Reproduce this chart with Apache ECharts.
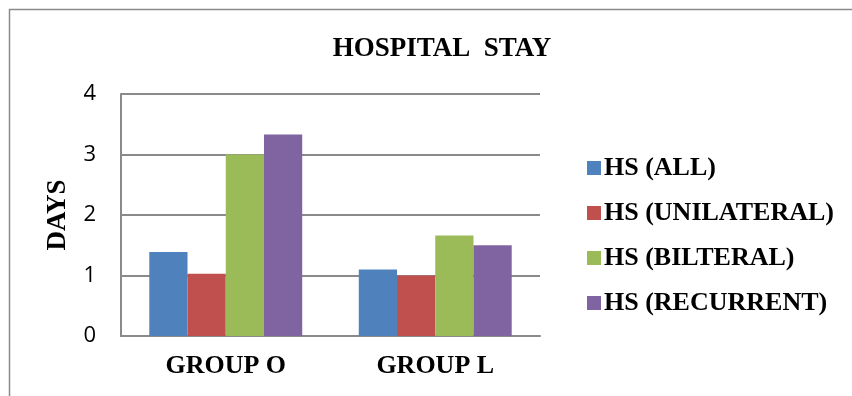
<!DOCTYPE html>
<html>
<head>
<meta charset="utf-8">
<script src="https://cdn.jsdelivr.net/npm/echarts@6/dist/echarts.min.js"></script>
<style>
  html, body { margin: 0; padding: 0; background: #fff; }
  #chart { width: 852px; height: 396px; }
</style>
</head>
<body>
<div id="chart"></div>
<script>
var categories = ["GROUP O", "GROUP L"]
var seriesNames = ["HS (ALL)", "HS (UNILATERAL)", "HS (BILTERAL)", "HS (RECURRENT)"]
var hsAll = [1.39, 1.1]
var hsUnilateral = [1.03, 1.0]
var hsBilateral = [3.0, 1.66]
var hsRecurrent = [3.33, 1.5]
var yTicks = [0, 1, 2, 3, 4]

var colors = ["#4F81BD", "#C0504D", "#9BBB59", "#8064A2"]
var values = [hsAll, hsUnilateral, hsBilateral, hsRecurrent]

var chartDom = document.getElementById("chart")
var myChart = echarts.init(chartDom)
var serif = "'Liberation Serif', 'Times New Roman', serif"

var option = {
    animation: false,
    color: colors,
    title: {
        text: "HOSPITAL  STAY",
        left: 437,
        top: 31,
        textAlign: "center",
        textStyle: { fontFamily: serif, fontWeight: "bold", fontSize: 27, color: "#000" }
    },
    graphic: [
        {
            type: "rect",
            shape: { x: 9.5, y: 9.5, width: 900, height: 500 },
            style: { fill: "none", stroke: "#8a8a8a", lineWidth: 1.5 },
            silent: true
        }
    ],
    legend: {
        orient: "vertical",
        left: 582,
        top: 150,
        itemWidth: 14,
        itemHeight: 14,
        itemGap: 19,
        icon: "rect",
        textStyle: { fontFamily: serif, fontWeight: "bold", fontSize: 26, color: "#000", padding: [0, 0, 0, -2] },
        data: seriesNames
    },
    grid: { left: 121, right: 312, top: 94, bottom: 60 },
    xAxis: {
        type: "category",
        data: categories,
        axisLine: { lineStyle: { color: "#8a8a8a", width: 2 } },
        axisTick: { show: false },
        axisLabel: { fontFamily: serif, fontWeight: "bold", fontSize: 26, color: "#000", margin: 17 }
    },
    yAxis: {
        type: "value",
        min: yTicks[0],
        max: yTicks[yTicks.length - 1],
        interval: 1,
        name: "DAYS",
        nameLocation: "middle",
        nameGap: 49,
        nameTextStyle: { fontFamily: serif, fontWeight: "bold", fontSize: 27, color: "#000" },
        axisLine: { show: true, lineStyle: { color: "#8a8a8a", width: 2 } },
        axisTick: { show: false },
        splitLine: { lineStyle: { color: "#8a8a8a", width: 2 } },
        axisLabel: { fontFamily: "'Open Sans', sans-serif", fontSize: 22, color: "#000", margin: 25 }
    },
    series: seriesNames.map(function (name, i) {
        return {
            name: name,
            type: "bar",
            data: values[i],
            barGap: "0%",
            barCategoryGap: "27%",
            itemStyle: { color: colors[i] }
        }
    })
}

myChart.setOption(option)
</script>
</body>
</html>
